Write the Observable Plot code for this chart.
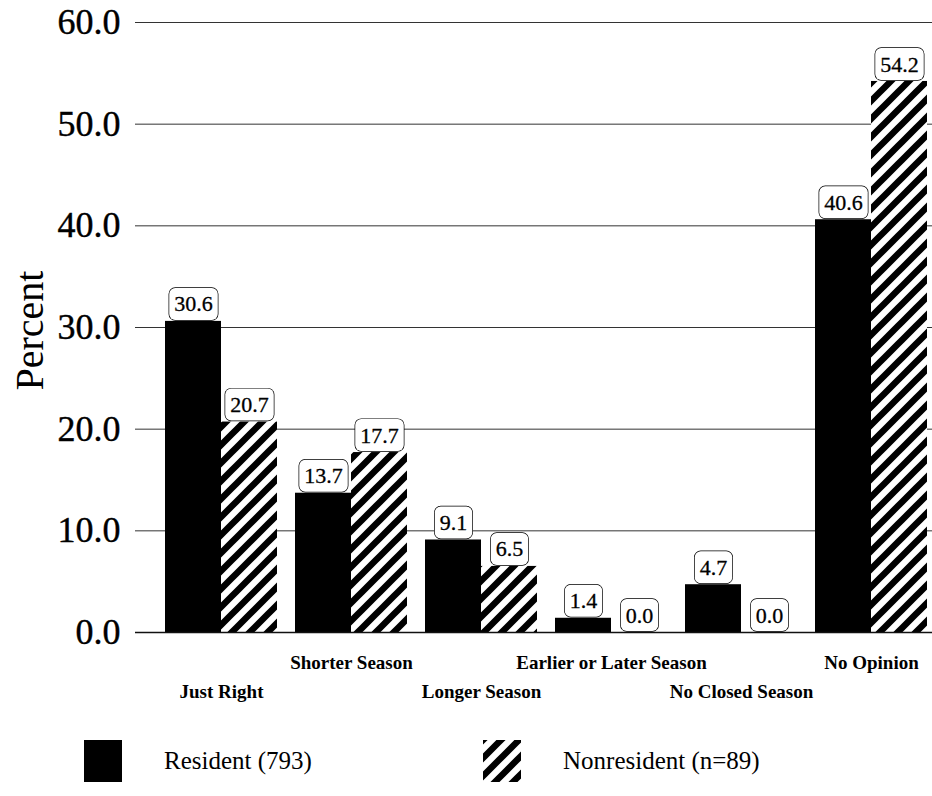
<!DOCTYPE html>
<html>
<head>
<meta charset="utf-8">
<script src="https://cdn.jsdelivr.net/npm/d3@7"></script>
<script src="https://cdn.jsdelivr.net/npm/@observablehq/plot@0.6"></script>
<style>
  html, body { margin: 0; padding: 0; background: #fff; }
  body { width: 932px; height: 796px; position: relative; overflow: hidden; font-family: "Liberation Serif", "Times New Roman", serif; }
  #chart svg { display: block; }
  #chart g[aria-label^="y-axis"] text { font-family: "Liberation Serif", "Times New Roman", serif; font-size: 36px; font-weight: normal; fill: #000; stroke: #000; stroke-width: 0.4px; }
  .legend-item { position: absolute; display: flex; align-items: center; font-size: 25px; color: #000; }
  .swatch { width: 38px; height: 42px; margin-right: 42px; }
</style>
</head>
<body>
<svg width="0" height="0" style="position:absolute">
  <defs>
    <pattern id="hatch" patternUnits="userSpaceOnUse" width="18" height="18">
      <rect width="18" height="18" fill="white"/>
      <path d="M-4.5,4.5 L4.5,-4.5 M0,18 L18,0 M13.5,22.5 L22.5,13.5" stroke="black" stroke-width="6.5"/>
    </pattern>
  </defs>
</svg>
<div id="chart"></div>
<div class="legend-item" style="left:84px; top:740px;">
  <svg class="swatch" width="38" height="42"><rect width="38" height="42" fill="black"/></svg>
  <span id="leg0"></span>
</div>
<div class="legend-item" style="left:483px; top:740px;">
  <svg class="swatch" width="38" height="42"><rect width="38" height="42" fill="url(#hatch)"/></svg>
  <span id="leg1"></span>
</div>
<script>
// ---- Data ----
const categories = ["Just Right", "Shorter Season", "Longer Season", "Earlier or Later Season", "No Closed Season", "No Opinion"];
const series = ["Resident (793)", "Nonresident (n=89)"];
const resident = [30.6, 13.7, 9.1, 1.4, 4.7, 40.6];
const nonresident = [20.7, 17.7, 6.5, 0.0, 0.0, 54.2];
const yTicks = [0, 10, 20, 30, 40, 50, 60];
const yLabel = "Percent";

const residentRows = categories.map((c, i) => ({category: c, series: series[0], value: resident[i]}));
const nonresidentRows = categories.map((c, i) => ({category: c, series: series[1], value: nonresident[i]}));
const upperCats = categories.filter((_, i) => i % 2 === 1);
const lowerCats = categories.filter((_, i) => i % 2 === 0);

document.getElementById("leg0").textContent = series[0];
document.getElementById("leg1").textContent = series[1];

const fmt = d3.format(".1f");
const half = 56;

const plot = Plot.plot({
  width: 932,
  height: 712,
  marginLeft: 135,
  marginRight: 0,
  marginTop: 22,
  marginBottom: 80,
  style: {fontFamily: '"Liberation Serif", "Times New Roman", serif', background: "white", color: "black", overflow: "visible"},
  x: {domain: categories, range: [164, 928], paddingInner: 18 / 130, paddingOuter: 0, axis: null},
  y: {domain: [0, 60], ticks: yTicks, tickFormat: fmt, tickSize: 0, tickPadding: 15, label: null},
  color: {domain: series, range: ["black", "url(#hatch)"]},
  marks: [
    Plot.ruleY(yTicks.filter(d => d > 0), {stroke: "#333", strokeWidth: 1}),
    Plot.barY(residentRows, {x: "category", y: "value", fill: "series", insetRight: half}),
    Plot.barY(nonresidentRows, {x: "category", y: "value", fill: "series", insetLeft: half}),
    Plot.ruleY([0], {stroke: "#111", strokeWidth: 1.5}),
    Plot.text(residentRows, {x: "category", y: "value", text: d => fmt(d.value), dx: -half / 2, dy: -17, fontSize: 22, fill: "black", stroke: "black", strokeWidth: 0.3}),
    Plot.text(nonresidentRows, {x: "category", y: "value", text: d => fmt(d.value), dx: half / 2, dy: -17, fontSize: 22, fill: "black", stroke: "black", strokeWidth: 0.3}),
    Plot.text(upperCats, {x: d => d, frameAnchor: "bottom", dy: 36, text: d => d, fontSize: 19, fontWeight: "bold", fill: "black"}),
    Plot.text(lowerCats, {x: d => d, frameAnchor: "bottom", dy: 65, text: d => d, fontSize: 19, fontWeight: "bold", fill: "black"}),
    Plot.text([yLabel], {frameAnchor: "left", textAnchor: "middle", dx: -105, dy: 3, rotate: -90, text: d => d, fontSize: 40, fill: "black"})
  ]
});

document.getElementById("chart").append(plot);

// Rounded boxes behind the value labels (first two text marks)
const textGroups = plot.querySelectorAll('g[aria-label="text"]');
[textGroups[0], textGroups[1]].forEach(g => {
  if (!g) return;
  g.querySelectorAll("text").forEach(t => {
    const bb = t.getBBox();
    const cy = bb.y + bb.height / 2;
    const r = document.createElementNS("http://www.w3.org/2000/svg", "rect");
    r.setAttribute("x", bb.x - 5);
    r.setAttribute("y", cy - 16);
    r.setAttribute("width", bb.width + 10);
    r.setAttribute("height", 32);
    r.setAttribute("rx", 6);
    r.setAttribute("fill", "white");
    r.setAttribute("stroke", "black");
    r.setAttribute("stroke-width", 1.4);
    const tr = t.getAttribute("transform");
    if (tr) r.setAttribute("transform", tr);
    t.parentNode.insertBefore(r, t);
  });
});
</script>
</body>
</html>
